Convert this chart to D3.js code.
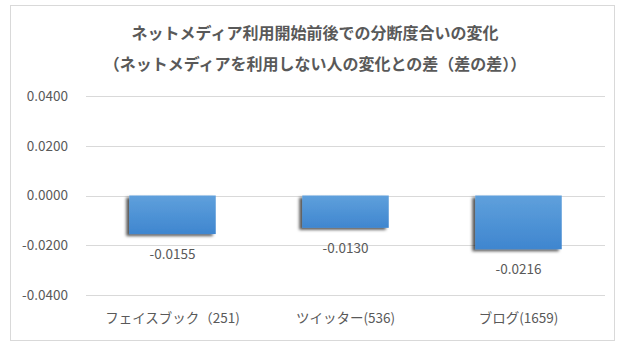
<!DOCTYPE html>
<html>
<head>
<meta charset="utf-8">
<script src="https://cdn.jsdelivr.net/npm/d3@7"></script>
<style>
	body { margin: 0; background: #fff; }
	text { font-family: "Noto Sans CJK JP", "Noto Sans", sans-serif; fill: #595959; }
</style>
</head>
<body>
<div id="chart"></div>
<script>
var categories = ["フェイスブック（251)", "ツイッター(536)", "ブログ(1659)"];
var values = [-0.0155, -0.0130, -0.0216];
var yTicks = [-0.04, -0.02, 0, 0.02, 0.04];
var titleLines = ["ネットメディア利用開始前後での分断度合いの変化", "（ネットメディアを利用しない人の変化との差（差の差））"];

var width = 624, height = 344;
var margins = { left: 86, right: 19, top: 96, bottom: 49 };
var fmt = function(d) { return d3.format(".4f")(d).replace("−", "-"); };

var svg = d3.select("#chart")
	.append("svg")
	.attr("width", width)
	.attr("height", height);

var defs = svg.append("defs");
var grad = defs.append("linearGradient")
	.attr("id", "barGrad")
	.attr("x1", "0%").attr("y1", "0%")
	.attr("x2", "0%").attr("y2", "100%");
grad.append("stop").attr("offset", "0%").attr("stop-color", "#5fa0dc");
grad.append("stop").attr("offset", "100%").attr("stop-color", "#3f86cf");

var shadow = defs.append("filter")
	.attr("id", "shadow")
	.attr("x", "-20%").attr("y", "-20%")
	.attr("width", "140%").attr("height", "140%");
shadow.append("feDropShadow")
	.attr("dx", -3).attr("dy", 2)
	.attr("stdDeviation", 1.5)
	.attr("flood-color", "#000")
	.attr("flood-opacity", 0.65);

// outer frame
svg.append("rect")
	.attr("x", 10.5).attr("y", 5.5)
	.attr("width", 604).attr("height", 335)
	.attr("fill", "#fff")
	.attr("stroke", "#d9d9d9");

var x = d3.scaleBand()
	.domain(categories)
	.range([margins.left, width - margins.right])
	.paddingInner(0.5)
	.paddingOuter(0.25);

var y = d3.scaleLinear()
	.domain([-0.04, 0.04])
	.range([height - margins.bottom, margins.top]);

// title
svg.selectAll(".title")
	.data(titleLines)
	.enter().append("text")
	.attr("class", "title")
	.attr("x", 315)
	.attr("y", function(d, i) { return 38.5 + i * 31.5; })
	.attr("text-anchor", "middle")
	.style("font-size", "16px")
	.style("font-weight", "bold")
	.text(function(d) { return d; });

// grid
svg.selectAll(".grid")
	.data(yTicks)
	.enter().append("line")
	.attr("x1", margins.left)
	.attr("x2", width - margins.right)
	.attr("y1", function(d) { return Math.round(y(d)) + 0.5; })
	.attr("y2", function(d) { return Math.round(y(d)) + 0.5; })
	.attr("stroke", "#d9d9d9");

// y axis labels
var yAxis = d3.axisLeft(y)
	.tickValues(yTicks)
	.tickFormat(fmt)
	.tickSize(0)
	.tickPadding(0);
var yg = svg.append("g")
	.attr("transform", "translate(68,0)")
	.call(yAxis);
yg.select(".domain").remove();
yg.selectAll("text")
	.style("font-size", "13.5px")
	.style("font-family", null)
	.attr("fill", null);

// bars
svg.selectAll(".bar")
	.data(values)
	.enter().append("rect")
	.attr("class", "bar")
	.attr("x", function(d, i) { return x(categories[i]); })
	.attr("y", function(d) { return y(Math.max(0, d)); })
	.attr("width", x.bandwidth())
	.attr("height", function(d) { return Math.abs(y(d) - y(0)); })
	.attr("fill", "url(#barGrad)")
	.attr("filter", "url(#shadow)");

// value labels
svg.selectAll(".val")
	.data(values)
	.enter().append("text")
	.attr("class", "val")
	.attr("x", function(d, i) { return x(categories[i]) + x.bandwidth() / 2; })
	.attr("y", function(d) { return y(d) + 25; })
	.attr("text-anchor", "middle")
	.style("font-size", "13.5px")
	.text(fmt);

// category labels
var xAxis = d3.axisBottom(x).tickSize(0).tickPadding(0);
var xg = svg.append("g")
	.attr("transform", "translate(0," + (height - margins.bottom + 18) + ")")
	.call(xAxis);
xg.select(".domain").remove();
xg.selectAll("text")
	.style("font-size", "13.5px")
	.style("font-family", null)
	.attr("fill", null);
</script>
</body>
</html>
